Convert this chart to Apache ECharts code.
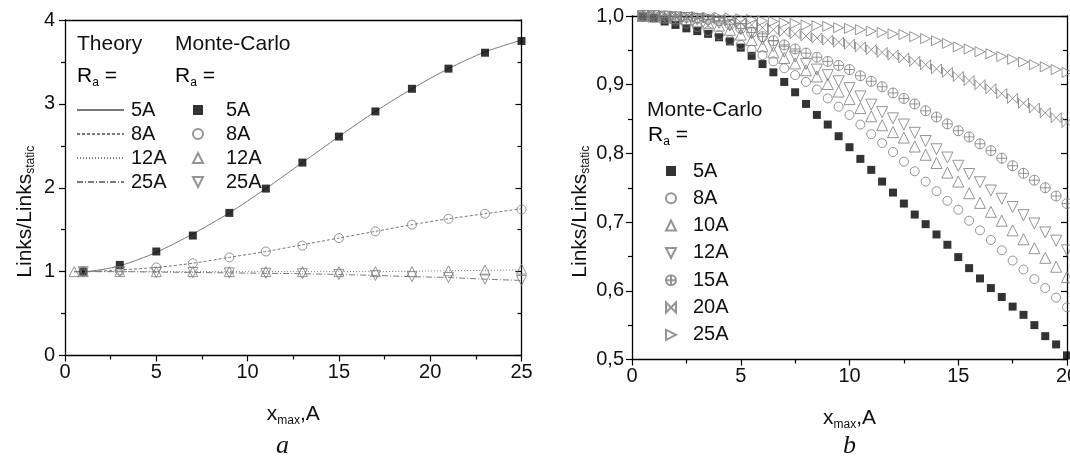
<!DOCTYPE html>
<html><head><meta charset="utf-8">
<script src="https://cdn.jsdelivr.net/npm/echarts@6/dist/echarts.min.js"></script>
<style>html,body{margin:0;padding:0;background:#fff}#c{width:1070px;height:462px}</style>
</head><body><div id="c"></div>
<script>
// ---------- panel a ----------
const aX = [1,3,5,7,9,11,13,15,17,19,21,23,25];
const aX12 = [0.5,1,3,5,7,9,11,13,15,17,19,21,23,25];
const aMc5 = [1.00,1.08,1.24,1.43,1.70,1.99,2.30,2.61,2.91,3.18,3.42,3.61,3.75];
const aMc8 = [1.00,1.01,1.05,1.10,1.17,1.24,1.31,1.40,1.48,1.56,1.63,1.69,1.74];
const aMc12 = [1.00,1.00,1.00,1.00,1.00,1.00,1.00,1.00,1.00,1.00,1.00,1.01,1.02,1.03];
const aMc25 = [1.00,1.00,0.99,0.99,0.985,0.98,0.975,0.965,0.955,0.94,0.93,0.91,0.895];
const thX = [0.5,1,3,5,7,9,11,13,15,17,19,21,23,25];
const th5 = [1.00,1.00,1.07,1.23,1.45,1.70,1.99,2.30,2.61,2.91,3.18,3.42,3.62,3.76];
const th8 = [1.00,1.00,1.02,1.05,1.10,1.17,1.24,1.32,1.40,1.48,1.56,1.63,1.69,1.75];
const th12 = [1.00,1.00,1.00,1.00,1.00,1.00,1.00,1.00,1.00,1.00,1.005,1.01,1.015,1.02];
const th25 = [1.00,1.00,1.00,0.995,0.99,0.985,0.98,0.975,0.965,0.955,0.94,0.93,0.91,0.895];
const aXTicks = [0,5,10,15,20,25];
const aYTicks = [0,1,2,3,4];
// ---------- panel b ----------
const bX = [0.5,1,1.5,2,2.5,3,3.5,4,4.5,5,5.5,6,6.5,7,7.5,8,8.5,9,9.5,10,
            10.5,11,11.5,12,12.5,13,13.5,14,14.5,15,15.5,16,16.5,17,17.5,18,18.5,19,19.5,20];
const b5 = [0.999,0.997,0.992,0.987,0.982,0.978,0.974,0.969,0.963,0.954,0.942,0.930,0.918,0.904,0.889,0.872,0.856,0.842,0.825,0.809,
            0.792,0.776,0.759,0.743,0.727,0.711,0.697,0.682,0.667,0.649,0.633,0.618,0.604,0.591,0.577,0.565,0.550,0.534,0.522,0.506];
const b8 = [0.999,0.998,0.996,0.993,0.989,0.984,0.978,0.972,0.965,0.958,0.951,0.943,0.934,0.924,0.914,0.904,0.893,0.880,0.868,0.856,
            0.842,0.828,0.815,0.802,0.788,0.774,0.759,0.745,0.731,0.718,0.702,0.688,0.674,0.659,0.644,0.631,0.617,0.604,0.590,0.576];
const b10 = [1.000,0.999,0.998,0.997,0.995,0.993,0.990,0.986,0.980,0.973,0.965,0.956,0.947,0.939,0.931,0.921,0.912,0.901,0.890,0.879,
            0.866,0.854,0.841,0.831,0.823,0.810,0.798,0.786,0.772,0.759,0.742,0.728,0.715,0.702,0.688,0.675,0.662,0.648,0.635,0.620];
const b12 = [1.000,1.000,0.999,0.998,0.997,0.995,0.993,0.990,0.986,0.981,0.975,0.966,0.956,0.948,0.941,0.930,0.922,0.914,0.905,0.895,
            0.883,0.871,0.860,0.851,0.842,0.830,0.818,0.806,0.794,0.782,0.770,0.758,0.746,0.734,0.722,0.710,0.698,0.685,0.673,0.659];
const b15 = [1.000,1.000,1.000,0.999,0.998,0.997,0.995,0.993,0.988,0.982,0.976,0.970,0.964,0.958,0.952,0.946,0.940,0.934,0.928,0.922,
            0.913,0.905,0.897,0.888,0.880,0.872,0.862,0.853,0.843,0.833,0.824,0.814,0.804,0.793,0.782,0.771,0.761,0.750,0.738,0.727];
const b20 = [1.000,1.000,1.000,0.999,0.999,0.998,0.997,0.995,0.993,0.990,0.987,0.983,0.980,0.977,0.974,0.971,0.968,0.965,0.962,0.959,
            0.955,0.951,0.947,0.943,0.939,0.934,0.929,0.923,0.918,0.912,0.906,0.900,0.894,0.887,0.880,0.873,0.866,0.859,0.852,0.845];
const b25 = [1.000,1.000,1.000,1.000,0.999,0.999,0.998,0.998,0.997,0.996,0.995,0.993,0.992,0.990,0.989,0.987,0.986,0.985,0.983,0.982,
            0.980,0.978,0.976,0.974,0.973,0.970,0.967,0.964,0.960,0.955,0.952,0.948,0.945,0.941,0.937,0.933,0.929,0.926,0.922,0.918];
const bXTicks = [0,5,10,15,20];
const bYTicks = [0.5,0.6,0.7,0.8,0.9,1.0];

const zip = (xs, ys) => xs.map((x, i) => [x, ys[i]]);
const GRAY = '#7a7a7a';
const FONT = 'Liberation Sans, Arial, sans-serif';

const chart = echarts.init(document.getElementById('c'), null, {renderer: 'canvas'});

const axisLine = {show: true, onZero: false, lineStyle: {color: '#000', width: 1.3}};
const subRich = {n: {fontSize: 21, fontFamily: FONT, color: '#111'}, s: {fontSize: 12, fontFamily: FONT, color: '#111', padding: [12, 0, 0, 0]}};

function xBottom(grid, max, interval, name) {
  return {type: 'value', gridIndex: grid, min: 0, max: max, interval: interval, position: 'bottom',
    axisLine: axisLine, axisTick: {show: true, length: 6, lineStyle: {color: '#000', width: 1.2}},
    minorTick: {show: true, splitNumber: 2, length: 4, lineStyle: {color: '#000', width: 1.2}},
    splitLine: {show: false}, minorSplitLine: {show: false},
    axisLabel: {fontSize: 20, fontFamily: FONT, color: '#111', margin: 7},
    name: name, nameLocation: 'middle', nameGap: 47,
    nameTextStyle: {rich: subRich}};
}
function xTop(grid, max, interval) {
  return {type: 'value', gridIndex: grid, min: 0, max: max, interval: interval, position: 'top',
    axisLine: axisLine, axisTick: {show: false}, axisLabel: {show: false}, splitLine: {show: false}};
}
function yLeft(grid, min, max, interval, fmt, gap, margin) {
  return {type: 'value', gridIndex: grid, min: min, max: max, interval: interval, position: 'left',
    axisLine: axisLine, axisTick: {show: true, length: 6, lineStyle: {color: '#000', width: 1.2}},
    minorTick: {show: true, splitNumber: 2, length: 4, lineStyle: {color: '#000', width: 1.2}},
    splitLine: {show: false}, minorSplitLine: {show: false},
    axisLabel: {fontSize: 20, fontFamily: FONT, color: '#111', margin: margin, formatter: fmt},
    name: '{n|Links/Links}{s|static}', nameLocation: 'middle', nameRotate: 90, nameGap: gap,
    nameTextStyle: {rich: subRich, padding: [0, 48, 0, 0]}};
}
function yRight(grid, min, max, interval) {
  return {type: 'value', gridIndex: grid, min: min, max: max, interval: interval, position: 'right',
    axisLine: axisLine, axisTick: {show: true, inside: true, length: 6, lineStyle: {color: '#000', width: 1.2}},
    minorTick: {show: true, splitNumber: 2, length: 4, lineStyle: {color: '#000', width: 1.2}},
    splitLine: {show: false}, minorSplitLine: {show: false}, axisLabel: {show: false}};
}

const hollow = {color: 'transparent', borderColor: GRAY, borderWidth: 1};
const PLUSCIRCLE = 'path://M10,0 A10,10 0 1,1 -10,0 A10,10 0 1,1 10,0 Z M-10,0 L10,0 M0,-10 L0,10';
const BOWTIE = 'path://M-10,-10 L10,10 L10,-10 L-10,10 Z';
const TRI_UP = 'path://M0,10 L10,10 L5,0 Z';
const TRI_DOWN = 'path://M0,0 L10,0 L5,10 Z';
const TRI_RIGHT = 'path://M0,0 L10,5 L0,10 Z';

function theory(name, ys, type) {
  return {type: 'line', name: name, xAxisIndex: 0, yAxisIndex: 0, data: zip(thX, ys), smooth: 0.25,
    showSymbol: false, symbol: 'none', z: 2,
    lineStyle: {color: GRAY, width: 1, type: type}, itemStyle: {color: GRAY}};
}
function mcA(name, xs, ys, symbol, size, style) {
  return {type: 'scatter', name: name, xAxisIndex: 0, yAxisIndex: 0, data: zip(xs, ys), symbol: symbol,
    symbolSize: size, itemStyle: style, z: 3};
}
function mcB(name, ys, symbol, size, style) {
  return {type: 'scatter', name: name, xAxisIndex: 2, yAxisIndex: 2, data: zip(bX, ys), symbol: symbol,
    symbolSize: size, itemStyle: style, z: 3};
}
const labelFmt = name => '{t|' + name.slice(1) + 'A}';
const legText = (pad) => ({fontSize: 20, fontFamily: FONT, color: '#111', rich: {t: {fontSize: 20, fontFamily: FONT, color: '#111', padding: [0, 0, 0, pad]}}});

const option = {
  animation: false,
  backgroundColor: '#fff',
  grid: [
    {left: 65, top: 20, width: 456.5, height: 335.5, outerBoundsMode: 'none', containLabel: false},
    {left: 632, top: 16, width: 435, height: 343.5, outerBoundsMode: 'none', containLabel: false}
  ],
  xAxis: [
    xBottom(0, 25, 5, '{n|x}{s|max}{n|,A}'),
    xTop(0, 25, 5),
    xBottom(1, 20, 5, '{n|x}{s|max}{n|,A}'),
    xTop(1, 20, 5)
  ],
  yAxis: [
    yLeft(0, 0, 4, 1, v => String(v), 28, 10),
    yRight(0, 0, 4, 1),
    yLeft(1, 0.5, 1.0, 0.1, v => v.toFixed(1).replace('.', ','), 40, 8),
    yRight(1, 0.5, 1.0, 0.1)
  ],
  legend: [
    {data: ['T5', 'T8', 'T12', 'T25'], orient: 'vertical', left: 76, top: 100, padding: 0, itemWidth: 47, itemHeight: 10,
     itemGap: 4, formatter: labelFmt, textStyle: legText(2), selectedMode: false,
     itemStyle: {color: 'transparent', borderColor: 'transparent', borderWidth: 0}},
    {data: ['M5', 'M8', 'M12', 'M25'], orient: 'vertical', left: 192, top: 100, padding: 0, itemWidth: 10, itemHeight: 10,
     itemGap: 4, formatter: labelFmt, textStyle: legText(18), selectedMode: false},
    {data: ['R5', 'R8', 'R10', 'R12', 'R15', 'R20', 'R25'], orient: 'vertical', left: 665, top: 161, padding: 0, itemWidth: 10, itemHeight: 10,
     itemGap: 7.3, formatter: labelFmt, textStyle: legText(12), selectedMode: false}
  ],
  graphic: [
    {type: 'text', left: 77, top: 34, style: {text: 'Theory', font: '21px ' + FONT, fill: '#111'}},
    {type: 'text', left: 175, top: 34, style: {text: 'Monte-Carlo', font: '21px ' + FONT, fill: '#111'}},
    {type: 'text', left: 77, top: 66, style: {text: '{n|R}{s|a}{n| =}', rich: subRich}},
    {type: 'text', left: 175, top: 66, style: {text: '{n|R}{s|a}{n| =}', rich: subRich}},
    {type: 'text', left: 647, top: 100, style: {text: 'Monte-Carlo', font: '21px ' + FONT, fill: '#111'}},
    {type: 'text', left: 648, top: 125, style: {text: '{n|R}{s|a}{n| =}', rich: subRich}},
    {type: 'text', left: 276, top: 433, style: {text: 'a', font: 'italic 26px Liberation Serif, serif', fill: '#111'}},
    {type: 'text', left: 843, top: 433, style: {text: 'b', font: 'italic 26px Liberation Serif, serif', fill: '#111'}}
  ],
  series: [
    theory('T5', th5, 'solid'),
    theory('T8', th8, [3, 2]),
    theory('T12', th12, [1, 2]),
    theory('T25', th25, [6, 2, 1, 2]),
    mcA('M5', aX, aMc5, 'rect', 8, {color: '#000'}),
    mcA('M8', aX, aMc8, 'circle', 9, hollow),
    mcA('M12', aX12, aMc12, TRI_UP, 10, hollow),
    mcA('M25', aX, aMc25, TRI_DOWN, 10, hollow),
    mcB('R5', b5, 'rect', 8, {color: '#000'}),
    mcB('R8', b8, 'circle', 9, hollow),
    mcB('R10', b10, TRI_UP, 11, hollow),
    mcB('R12', b12, TRI_DOWN, 11, hollow),
    mcB('R15', b15, PLUSCIRCLE, 10, hollow),
    mcB('R20', b20, BOWTIE, 10, hollow),
    mcB('R25', b25, TRI_RIGHT, 10, hollow)
  ]
};
chart.setOption(option);
</script>
</body></html>
